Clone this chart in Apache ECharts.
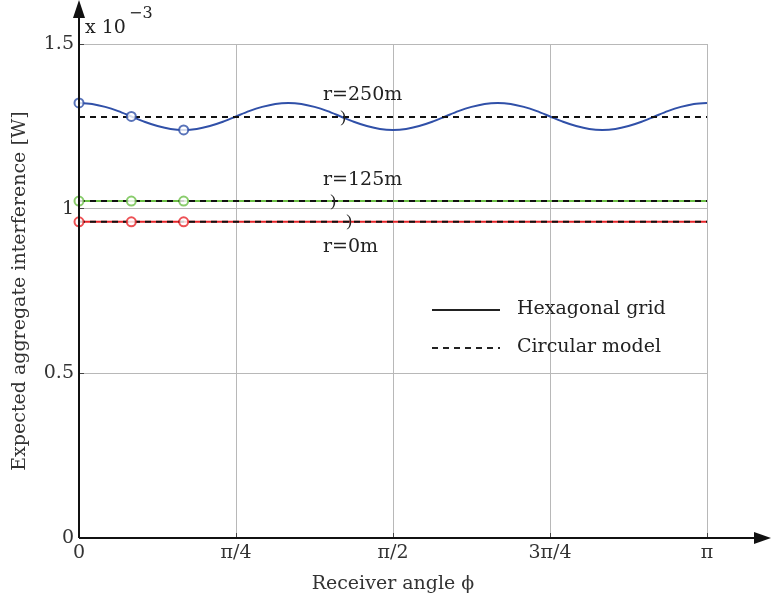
<!DOCTYPE html>
<html>
<head>
<meta charset="utf-8">
<script src="https://cdn.jsdelivr.net/npm/echarts@6/dist/echarts.min.js"></script>
<style>
  html, body { margin: 0; padding: 0; background: #fff; }
  #main { width: 771px; height: 604px; }
</style>
</head>
<body>
<div id="main"></div>
<script>
// angle in degrees (0 .. 180 = 0 .. pi), values in units of 1e-3 W
var angles = [0, 3.75, 7.5, 11.25, 15, 18.75, 22.5, 26.25, 30, 33.75, 37.5, 41.25,
  45, 48.75, 52.5, 56.25, 60, 63.75, 67.5, 71.25, 75, 78.75, 82.5, 86.25,
  90, 93.75, 97.5, 101.25, 105, 108.75, 112.5, 116.25, 120, 123.75, 127.5, 131.25,
  135, 138.75, 142.5, 146.25, 150, 153.75, 157.5, 161.25, 165, 168.75, 172.5, 176.25, 180];
var hex250 = [1.321, 1.318, 1.309, 1.296, 1.280, 1.264, 1.251, 1.242,
  1.239, 1.242, 1.251, 1.264, 1.280, 1.296, 1.309, 1.318,
  1.321, 1.318, 1.309, 1.296, 1.280, 1.264, 1.251, 1.242,
  1.239, 1.242, 1.251, 1.264, 1.280, 1.296, 1.309, 1.318,
  1.321, 1.318, 1.309, 1.296, 1.280, 1.264, 1.251, 1.242,
  1.239, 1.242, 1.251, 1.264, 1.280, 1.296, 1.309, 1.318, 1.321];
var hex125Angles = [0, 180];
var hex125 = [1.023, 1.023];
var hex0Angles = [0, 180];
var hex0 = [0.960, 0.960];
var circAngles = [0, 180];
var circ250 = [1.278, 1.278];
var circ125 = [1.023, 1.023];
var circ0 = [0.960, 0.960];
// simulated points (circles)
var simAngles = [0, 15, 30];
var sim250 = [1.321, 1.280, 1.239];
var sim125 = [1.023, 1.023, 1.023];
var sim0 = [0.960, 0.960, 0.960];
var xTickLabels = {0: '0', 45: 'π/4', 90: 'π/2', 135: '3π/4', 180: 'π'};

var FONT = 'DejaVu Serif';
var FS = 19;
var BLUE = '#3050a8', GREEN = '#6cbf47', RED = '#e8252a';

function pairs(xs, ys) {
  return xs.map(function (x, i) { return [x, ys[i]]; });
}

function hexSeries(xs, ys, color) {
  return {
    name: 'Hexagonal grid', type: 'line', data: pairs(xs, ys),
    smooth: 0.3, symbol: 'none', z: 2,
    lineStyle: { color: color, width: 2 }, itemStyle: { color: color }
  };
}
function circSeries(ys) {
  return {
    name: 'Circular model', type: 'line', data: pairs(circAngles, ys),
    symbol: 'none', z: 3,
    lineStyle: { color: '#111', width: 2, type: [6, 5] }, itemStyle: { color: '#111' }
  };
}
function simSeries(ys, color) {
  return {
    type: 'scatter', data: pairs(simAngles, ys), symbol: 'emptyCircle', symbolSize: 9,
    z: 4, itemStyle: { color: color, borderColor: color, borderWidth: 1.8 }
  };
}

var chart = echarts.init(document.getElementById('main'));

var option = {
  animation: false,
  grid: { left: 79, right: 64, top: 44, bottom: 66 },
  xAxis: {
    type: 'value', min: 0, max: 180, interval: 45,
    name: 'Receiver angle ϕ', nameLocation: 'middle', nameGap: 37,
    nameTextStyle: { fontFamily: FONT, fontSize: FS, color: '#333' },
    axisLine: { show: false },
    axisTick: { show: true, inside: true, length: 5, lineStyle: { color: '#444' } },
    axisLabel: {
      fontFamily: FONT, fontSize: FS, color: '#333', margin: 6,
      formatter: function (v) { return xTickLabels[v]; }
    },
    splitLine: { show: true, lineStyle: { color: '#b8b8b8', width: 1 } }
  },
  yAxis: {
    type: 'value', min: 0, max: 1.5, interval: 0.5,
    name: 'Expected aggregate interference [W]', nameLocation: 'middle', nameGap: 49,
    nameTextStyle: { fontFamily: FONT, fontSize: FS, color: '#333' },
    axisLine: { show: false },
    axisTick: { show: true, inside: true, length: 5, lineStyle: { color: '#444' } },
    axisLabel: {
      fontFamily: FONT, fontSize: FS, color: '#333', margin: 5,
      formatter: function (v) { return String(v); }
    },
    splitLine: { show: true, lineStyle: { color: '#b8b8b8', width: 1 } }
  },
  series: [
    hexSeries(angles, hex250, BLUE), hexSeries(hex125Angles, hex125, GREEN),
    hexSeries(hex0Angles, hex0, RED),
    circSeries(circ250), circSeries(circ125), circSeries(circ0),
    simSeries(sim250, BLUE), simSeries(sim125, GREEN), simSeries(sim0, RED)
  ]
};
chart.setOption(option);

// decorations: arrowed axes, exponent, curve labels, legend box
var o = chart.convertToPixel({ gridIndex: 0 }, [0, 0]);
function pt(a, v) { return chart.convertToPixel({ gridIndex: 0 }, [a, v]); }
var p250 = pt(75.7, 1.278), p125 = pt(72.8, 1.023), p0 = pt(77.4, 0.960);
var txt = function (x, y, s, size) {
  return { type: 'text', x: x, y: y, z: 20,
    style: { text: s, fontFamily: FONT, fontSize: size || FS, fill: '#222',
      verticalAlign: 'middle' } };
};
var bracket = function (p) {
  return { type: 'text', x: p[0], y: p[1], z: 20,
    style: { text: ')', fontFamily: 'Liberation Serif', fontSize: 17, fill: '#222',
      align: 'center', verticalAlign: 'middle' } };
};
chart.setOption({
  graphic: [
    { type: 'line', z: 10, shape: { x1: o[0], y1: o[1], x2: 757, y2: o[1] },
      style: { stroke: '#111', lineWidth: 2 } },
    { type: 'polygon', z: 10, shape: { points: [[771, o[1]], [754, o[1] - 6], [754, o[1] + 6]] },
      style: { fill: '#111' } },
    { type: 'line', z: 10, shape: { x1: o[0], y1: o[1], x2: o[0], y2: 14 },
      style: { stroke: '#111', lineWidth: 2 } },
    { type: 'polygon', z: 10, shape: { points: [[o[0], 0], [o[0] - 6, 18], [o[0] + 6, 18]] },
      style: { fill: '#111' } },
    txt(85, 28, 'x 10'),
    txt(129, 14, '−3', 16),
    txt(323, 95, 'r=250m'),
    txt(323, 180, 'r=125m'),
    txt(323, 247, 'r=0m'),
    bracket(p250), bracket(p125), bracket(p0),
    // legend
    { type: 'line', z: 10, shape: { x1: 432, y1: 310, x2: 500, y2: 310 },
      style: { stroke: '#222', lineWidth: 2 } },
    { type: 'line', z: 10, shape: { x1: 432, y1: 348, x2: 500, y2: 348 },
      style: { stroke: '#222', lineWidth: 2, lineDash: [6, 5] } },
    txt(517, 309, 'Hexagonal grid'),
    txt(517, 347, 'Circular model')
  ]
});
</script>
</body>
</html>
